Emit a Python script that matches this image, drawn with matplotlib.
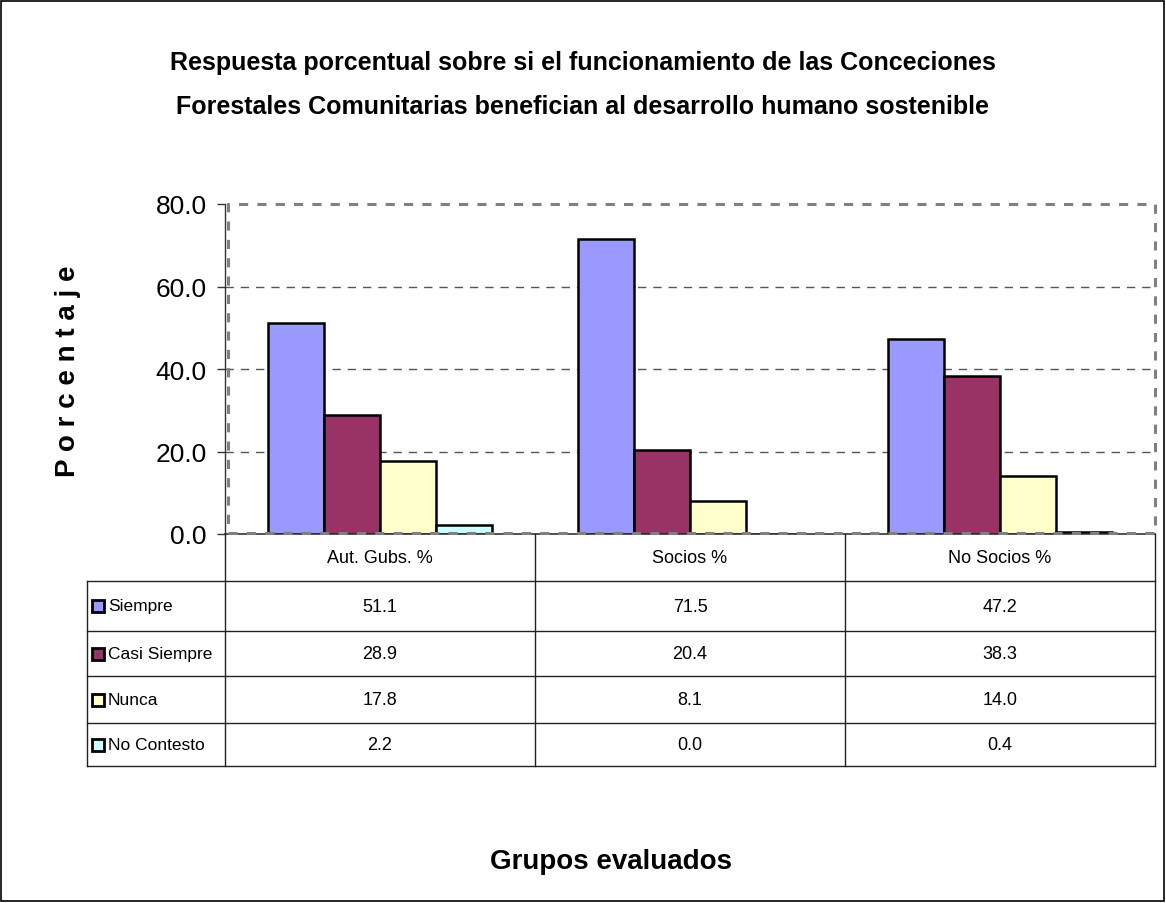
import matplotlib
matplotlib.use("Agg")
import matplotlib.pyplot as plt
from matplotlib.patches import Rectangle

categories = ["Aut. Gubs. %", "Socios %", "No Socios %"]
series = ["Siempre", "Casi Siempre", "Nunca", "No Contesto"]
siempre = [51.1, 71.5, 47.2]
casi_siempre = [28.9, 20.4, 38.3]
nunca = [17.8, 8.1, 14.0]
no_contesto = [2.2, 0.0, 0.4]
values = [siempre, casi_siempre, nunca, no_contesto]
colors = ["#9999FF", "#993366", "#FFFFCC", "#CCFFFF"]
yticks = [0, 20, 40, 60, 80]

title = ("Respuesta porcentual sobre si el funcionamiento de las Conceciones\n"
         "Forestales Comunitarias benefician al desarrollo humano sostenible")
ylabel = "P o r c e n t a j e"
xlabel = "Grupos evaluados"

FONT = ["Liberation Sans Narrow", "Liberation Sans", "DejaVu Sans"]
plt.rcParams["font.family"] = FONT

W, H = 1166, 904
fig = plt.figure(figsize=(W / 100, H / 100), dpi=100)
fig.patch.set_facecolor("white")

def fx(px):
    return px / W

def fy(py):
    return 1 - py / H

L, R, T, B = 225, 1155, 205, 535
ax = fig.add_axes([fx(L), fy(B), fx(R) - fx(L), fy(T) - fy(B)])
ax.set_xlim(-0.5, len(categories) - 0.5)
ax.set_ylim(0, 80)

bw = 0.18
n = len(series)
for i, (name, vals, c) in enumerate(zip(series, values, colors)):
    xs = [j + (i - (n - 1) / 2) * bw for j in range(len(categories))]
    ax.bar(xs, vals, width=bw, color=c, edgecolor="black", linewidth=1.8, zorder=3, label=name)

ax.set_yticks(yticks)
ax.set_yticklabels([f"{v:.1f}" for v in yticks], fontsize=19)
ax.set_xticks([])
ax.tick_params(axis="y", direction="out", length=6, width=1, color="#333333", pad=7)
for y in yticks[1:-1]:
    ax.axhline(y, color="#555555", linewidth=1, linestyle=(0, (6, 5)), zorder=1)
for s in ["top", "right"]:
    ax.spines[s].set_visible(False)
ax.spines["left"].set_color("#333333")
ax.spines["bottom"].set_color("#333333")
ax.spines["left"].set_linewidth(1)
ax.spines["bottom"].set_linewidth(1.2)
ax.spines["bottom"].set_zorder(4)
border = Rectangle((0.003, 0.003), 0.997, 0.997, transform=ax.transAxes, fill=False,
                   edgecolor="#808080", linewidth=2.2, linestyle=(0, (3, 3)), clip_on=False, zorder=5)
ax.add_patch(border)

# data table (drawn in pixel coordinates)
TL = 87
row_edges = [535, 582, 632, 677, 724, 767]
tax = fig.add_axes([fx(TL), fy(row_edges[-1]), fx(R) - fx(TL), fy(B) - fy(row_edges[-1])])
tax.set_xlim(TL, R)
tax.set_ylim(row_edges[-1], row_edges[0])
tax.axis("off")
unit = (R - L) / len(categories)
col_edges = [L + k * unit for k in range(len(categories) + 1)]
col_centers = [L + (k + 0.5) * unit for k in range(len(categories))]
lc = "#222222"
for xv in col_edges:
    tax.plot([xv, xv], [row_edges[0], row_edges[-1]], color=lc, lw=1, clip_on=False)
tax.plot([TL, TL], [row_edges[1], row_edges[-1]], color=lc, lw=1, clip_on=False)
for r in row_edges[1:]:
    tax.plot([TL, R], [r, r], color=lc, lw=1, clip_on=False)
hc = (row_edges[0] + row_edges[1]) / 2
for xc, cat in zip(col_centers, categories):
    tax.text(xc, hc, cat, ha="center", va="center", fontsize=13)
for i, (name, vals, c) in enumerate(zip(series, values, colors)):
    yc = (row_edges[i + 1] + row_edges[i + 2]) / 2
    tax.plot([TL + 11], [yc], marker="s", markersize=8.5, markerfacecolor=c,
             markeredgecolor="black", markeredgewidth=2, clip_on=False)
    tax.text(TL + 21, yc, name, ha="left", va="center", fontsize=12.5)
    for xc, v in zip(col_centers, vals):
        tax.text(xc, yc, f"{v:.1f}", ha="center", va="center", fontsize=13)

fig.text(0.5, fy(85), title, ha="center", va="center", fontsize=18, fontweight="bold",
         linespacing=2.05)
fig.text(fx(68), fy(371), ylabel, ha="center", va="center", rotation=90, fontsize=20,
         fontweight="bold")
fig.text(fx(611), fy(862), xlabel, ha="center", va="center", fontsize=20, fontweight="bold")

fig.patches.append(Rectangle((0.001, 0.002), 0.997, 0.996, transform=fig.transFigure,
                             fill=False, edgecolor="black", linewidth=1.2))

fig.savefig("out.png", dpi=100, facecolor="white")
